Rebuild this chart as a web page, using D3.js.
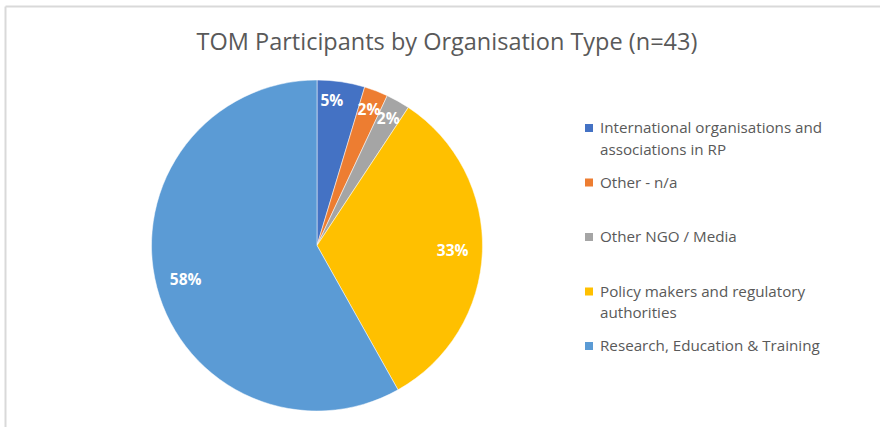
<!DOCTYPE html>
<html>
<head>
<meta charset="utf-8">
<script src="https://cdn.jsdelivr.net/npm/d3@7"></script>
<style>
body{margin:0;background:#fff;}
svg{display:block;font-family:"Open Sans","Liberation Sans",sans-serif;}
</style>
</head>
<body>
<div id="chart"></div>
<script>
var categories = ["International organisations and associations in RP", "Other - n/a", "Other NGO / Media", "Policy makers and regulatory authorities", "Research, Education & Training"]
var counts = [2, 1, 1, 14, 25]
var colours = ["#4472C4", "#ED7D31", "#A5A5A5", "#FFC000", "#5B9BD5"]
var legendLines = [["International organisations and", "associations in RP"], ["Other - n/a"], ["Other NGO / Media"], ["Policy makers and regulatory", "authorities"], ["Research, Education & Training"]]

var width = 880, height = 427
var cx = 317, cy = 245.5, radius = 165.5
var total = d3.sum(counts)

var svg = d3.select("#chart")
.append("svg")
.attr("width", width)
.attr("height", height)

// chart frame (only top and left edges are visible in the shot)
svg.append("line").attr("x1", 5.5).attr("y1", 6.5).attr("x2", width).attr("y2", 6.5)
.style("stroke", "#d9d9d9").style("stroke-width", 2)
svg.append("line").attr("x1", 5.5).attr("y1", 6.5).attr("x2", 5.5).attr("y2", height)
.style("stroke", "#d9d9d9").style("stroke-width", 2)

svg.append("text")
.attr("x", 447)
.attr("y", 50)
.attr("text-anchor", "middle")
.style("font-size", "23.5px")
.style("fill", "#595959")
.text("TOM Participants by Organisation Type (n=" + total + ")")

var data = categories.map(function(c, i) { return {name: c, value: counts[i], colour: colours[i]} })

var pie = d3.pie().sort(null).value(function(d) { return d.value })
var arc = d3.arc().innerRadius(0).outerRadius(radius)

var g = svg.append("g").attr("transform", "translate(" + cx + "," + cy + ")")
var arcs = pie(data)

g.selectAll("path")
.data(arcs)
.enter()
.append("path")
.attr("d", arc)
.style("fill", function(d) { return d.data.colour })
.style("stroke", "#fff")
.style("stroke-width", 0.5)

g.selectAll("text.lbl")
.data(arcs)
.enter()
.append("text")
.attr("class", "lbl")
.attr("transform", function(d) {
    var share = d.data.value / total
    var r = share < 0.1 ? radius * 0.88 : radius * 0.82
    var a = (d.startAngle + d.endAngle) / 2
    if (share >= 0.04 && share < 0.05) a = d.startAngle + (d.endAngle - d.startAngle) * 0.35
    return "translate(" + (Math.sin(a) * r) + "," + (-Math.cos(a) * r) + ")"
})
.attr("text-anchor", "middle")
.attr("dy", "0.35em")
.style("font-size", "15.5px")
.style("font-weight", "bold")
.style("fill", "#fff")
.text(function(d) { return Math.round(d.data.value / total * 100) + "%" })

// legend
var legend = svg.append("g").attr("transform", "translate(585,128)")
var item = legend.selectAll("g")
.data(data)
.enter()
.append("g")
.attr("transform", function(d, i) { return "translate(0," + (i * 54.5) + ")" })

item.append("rect")
.attr("x", 0)
.attr("y", -4)
.attr("width", 8)
.attr("height", 8)
.style("fill", function(d) { return d.colour })

item.each(function(d, i) {
    var t = d3.select(this).append("text")
    .attr("x", 15)
    .attr("y", 0)
    .style("font-size", "15.2px")
    .style("fill", "#595959")
    legendLines[i].forEach(function(line, j) {
        t.append("tspan").attr("x", 15).attr("dy", j == 0 ? "0.35em" : "21.5px").text(line)
    })
})
</script>
</body>
</html>
